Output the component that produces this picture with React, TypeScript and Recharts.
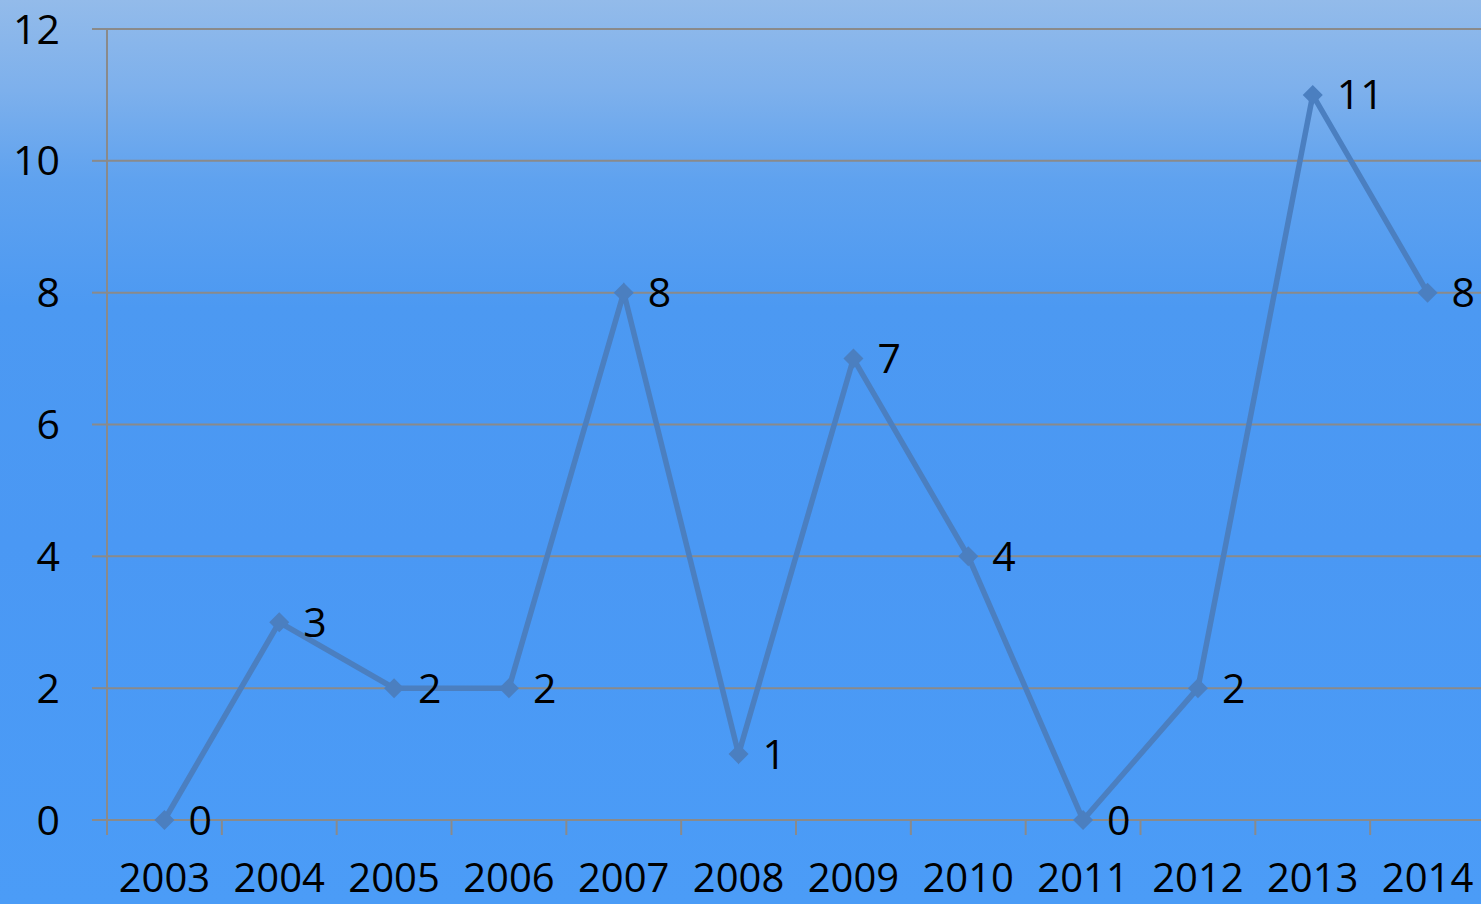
import React from 'react';
import { LineChart, Line, XAxis, YAxis, CartesianGrid, LabelList } from 'recharts';

const years = ['2003', '2004', '2005', '2006', '2007', '2008', '2009', '2010', '2011', '2012', '2013', '2014'];
const counts = [0, 3, 2, 2, 8, 1, 7, 4, 0, 2, 11, 8];
const yTicks = [0, 2, 4, 6, 8, 10, 12];

const data = years.map((year, i) => ({ year, value: counts[i] }));

const FONT = '"Open Sans", "Liberation Sans", sans-serif';
const AXIS_GRAY = '#8a8a8a';
const LINE_BLUE = '#4b7fc0';
const CHART_W = 1486;
const PLOT_LEFT = 107;
const BAND = (CHART_W - PLOT_LEFT - 1) / years.length;

function Diamond(props: any) {
  const { cx, cy } = props;
  if (cx == null || cy == null) return null;
  const r = 10;
  return (
    <path
      d={`M${cx},${cy - r} L${cx + r},${cy} L${cx},${cy + r} L${cx - r},${cy} Z`}
      fill={LINE_BLUE}
    />
  );
}

function YearTick(props: any) {
  const { x, y, payload } = props;
  return (
    <g>
      <line x1={x - BAND / 2} x2={x - BAND / 2} y1={y - 15} y2={y} stroke={AXIS_GRAY} strokeWidth={2} />
      <text x={x} y={y + 57} textAnchor="middle" fill="#000" fontSize={40} fontFamily={FONT}>
        {payload.value}
      </text>
    </g>
  );
}

export default function App() {
  return (
    <div
      style={{
        position: 'fixed',
        left: 0,
        top: 0,
        width: 1481,
        height: 904,
        overflow: 'hidden',
        background:
          'linear-gradient(to bottom, #93bbea 0%, #7db0ec 10%, #5fa2ef 20%, #4c99f2 34%, #4a98f4 60%, #4b9cf7 100%)',
      }}
    >
      <LineChart width={CHART_W} height={904} data={data} margin={{ top: 29, right: 1, bottom: 0, left: 0 }}>
        <CartesianGrid vertical={false} stroke={AXIS_GRAY} strokeWidth={2} />
        <XAxis
          dataKey="year"
          scale="band"
          height={84}
          axisLine={{ stroke: AXIS_GRAY, strokeWidth: 2 }}
          tickLine={false}
          tickSize={15}
          tickMargin={0}
          interval={0}
          tick={<YearTick />}
        />
        <YAxis
          width={107}
          domain={[0, 12]}
          ticks={yTicks}
          interval={0}
          axisLine={{ stroke: AXIS_GRAY, strokeWidth: 2 }}
          tickLine={{ stroke: AXIS_GRAY, strokeWidth: 2 }}
          tickSize={15}
          tickMargin={32}
          tick={{ fill: '#000', fontSize: 41, fontFamily: FONT }}
        />
        <Line
          type="linear"
          dataKey="value"
          stroke={LINE_BLUE}
          strokeWidth={5.5}
          dot={<Diamond />}
          activeDot={false}
          isAnimationActive={false}
        >
          <LabelList
            dataKey="value"
            position="right"
            offset={24}
            fill="#000"
            fontSize={41}
            fontFamily={FONT}
          />
        </Line>
      </LineChart>
    </div>
  );
}
